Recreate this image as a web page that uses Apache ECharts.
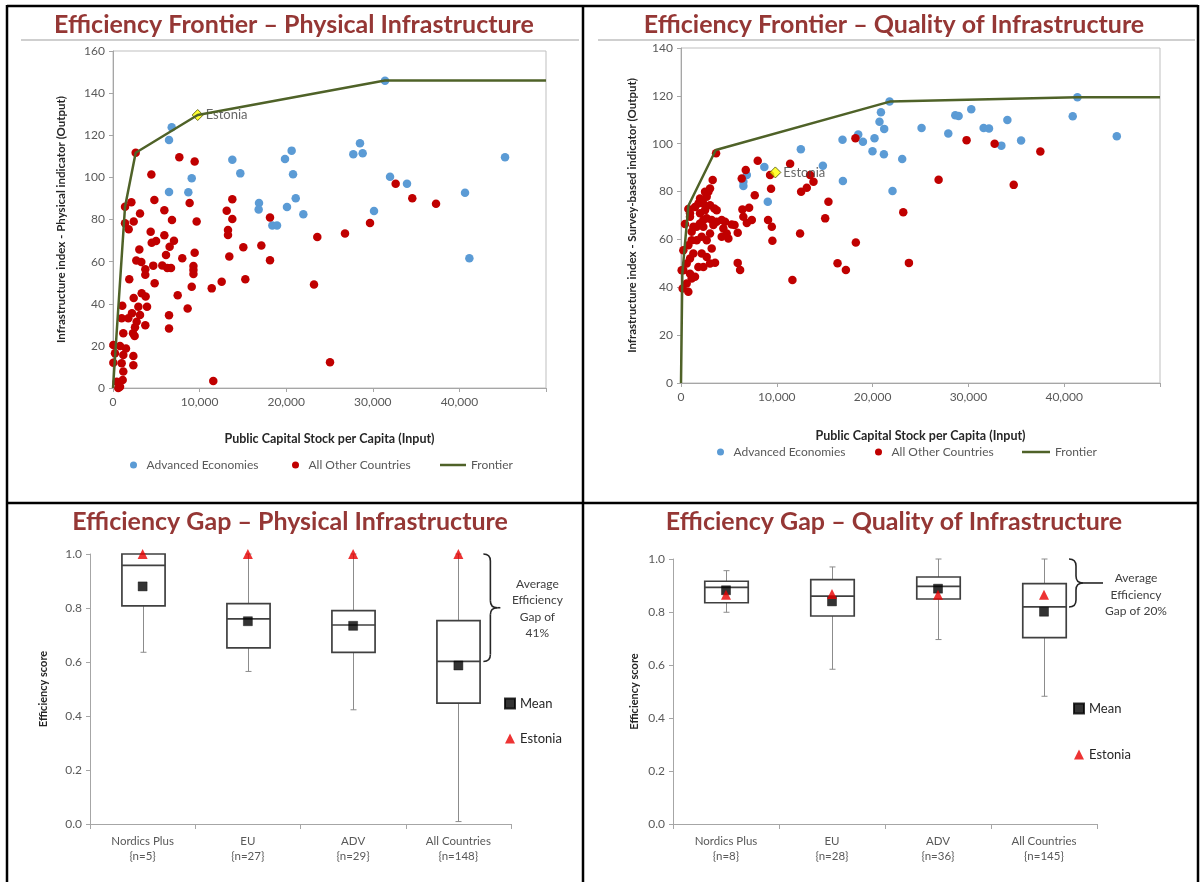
<!DOCTYPE html>
<html><head><meta charset="utf-8">
<script src="https://cdn.jsdelivr.net/npm/echarts@6/dist/echarts.min.js"></script>
<style>html,body{margin:0;padding:0;background:#fff}#c{width:1201px;height:882px}</style>
</head><body><div id="c"></div><script>
// ---------- DATA ----------
const physAdvanced = [[6780,123.8],[6470,117.8],[9090,99.6],[6470,93.1],[8700,92.9],[13780,108.4],[14700,101.9],[19860,108.7],[20630,112.7],[20790,101.5],[21100,90.1],[20090,85.9],[21980,82.5],[16860,87.8],[16820,84.8],[18400,77.2],[18940,77.2],[31410,145.9],[28520,116.2],[27750,111.0],[28830,111.4],[31990,100.3],[33950,97.0],[30140,84.0],[40650,92.7],[41150,61.6],[45270,109.5]];
const physOther = [[2620,111.7],[7660,109.5],[9430,107.5],[4430,101.4],[4780,89.3],[2120,88.2],[1390,86.1],[3120,82.8],[5930,84.4],[8850,87.8],[6810,79.8],[9660,79.1],[2390,79.1],[1390,78.2],[1810,75.4],[4350,74.2],[5930,72.5],[4470,69.0],[4970,69.8],[7040,69.9],[6540,67.1],[3040,65.7],[6120,63.2],[2690,60.5],[3270,59.8],[8000,61.6],[9430,64.2],[9290,57.9],[9290,56.0],[9290,54.1],[4650,58.1],[5690,58.2],[6270,57.0],[6700,57.0],[3730,56.4],[3730,53.8],[4810,49.7],[1880,51.6],[3310,45.0],[3770,43.4],[2390,42.7],[3930,38.6],[2930,38.6],[3120,34.7],[2190,35.5],[1770,33.1],[1000,33.1],[2730,31.5],[3730,29.8],[2540,28.8],[2310,26.0],[2500,24.7],[1070,39.1],[1190,26.0],[7470,44.0],[8620,37.7],[6470,34.5],[6470,28.3],[9090,48.1],[11400,47.3],[12550,50.5],[15280,51.6],[18130,60.6],[17130,67.6],[15050,66.8],[13430,62.4],[13280,72.6],[13280,75.0],[13130,84.2],[13780,89.6],[13780,80.2],[18130,80.9],[23590,71.7],[26790,73.4],[23210,49.1],[25060,12.2],[11580,3.3],[32640,97.0],[34560,90.1],[37300,87.5],[29680,78.3],[40,20.4],[810,19.9],[1500,18.8],[230,16.5],[1190,15.7],[2350,15.2],[40,12.0],[1000,11.7],[2350,10.8],[1190,7.8],[430,3.0],[1120,3.8],[810,0.6],[610,0.0]];
const physFrontier = [[0,0],[1390,86.1],[2620,111.7],[9780,129.6],[31400,146.0],[50000,146.0]];
const physEstonia = [[9780,129.6]];

const qualAdvanced = [[21770,117.6],[20870,113.1],[20720,109.2],[21210,106.2],[18500,103.9],[18990,100.8],[16860,101.7],[20200,102.3],[19990,96.9],[21180,95.6],[22080,80.2],[16900,84.4],[12510,97.7],[14810,90.8],[8700,90.3],[9060,75.7],[6870,86.9],[6510,84.1],[6510,82.3],[23090,93.6],[25110,106.6],[27900,104.3],[28630,111.9],[28980,111.6],[30300,114.4],[31590,106.6],[32150,106.4],[34070,109.9],[33440,99.2],[35500,101.3],[40890,111.5],[41380,119.4],[45490,103.1]];
const qualOther = [[29810,101.5],[32740,100.0],[37510,96.7],[26890,84.9],[34730,82.8],[23200,71.4],[23790,50.2],[18210,102.3],[3660,96.0],[8010,92.9],[11390,91.6],[6760,89.0],[6340,85.5],[9300,86.9],[13480,86.9],[13830,84.1],[13130,81.6],[12540,79.9],[9400,81.2],[7700,78.5],[15390,75.7],[15050,68.8],[9090,68.1],[9480,65.3],[9540,59.4],[12430,62.5],[18250,58.7],[16340,50.0],[17210,47.2],[11630,43.0],[5920,50.2],[6170,47.2],[6410,72.5],[7110,73.2],[6510,69.5],[6870,66.9],[7390,68.1],[5920,62.8],[5590,66.0],[766,72.7],[940,69.5],[418,66.4],[1289,65.3],[1985,66.7],[2334,68.1],[2682,68.8],[3204,68.1],[3727,67.4],[4249,68.1],[4598,67.4],[4423,64.6],[4772,62.5],[4249,61.1],[4946,60.4],[5294,66.2],[3379,66.0],[3030,62.5],[2160,61.1],[1637,59.7],[1115,59.7],[766,57.6],[244,55.5],[1289,54.1],[2160,54.1],[2682,52.7],[940,52.0],[592,49.9],[1811,48.5],[2334,48.5],[3030,49.9],[3553,50.3],[244,47.1],[940,45.7],[1115,43.7],[1463,44.4],[592,41.6],[174,39.5],[766,38.1],[1985,77.1],[2682,77.8],[1811,75.0],[2334,75.0],[2856,79.9],[3030,81.3],[3309,84.8],[3030,74.3],[3483,72.9],[3727,72.2],[2508,72.2],[1463,73.6],[940,70.9],[1115,63.2],[1637,65.3],[2682,59.7],[3204,56.2],[2334,65.3],[1985,70.9],[2508,79.9],[70,47.1]];
const qualFrontier = [[0,0],[140,45.8],[770,74.1],[3630,97.4],[21800,117.6],[41350,119.4],[50000,119.4]];
const qualEstonia = [[9850,88.0]];

const physCategories = ['Nordics Plus\n{n=5}','EU\n{n=27}','ADV\n{n=29}','All Countries\n{n=148}'];
const physBoxMin = [0.636,0.565,0.423,0.009];
const physBoxQ1  = [0.808,0.652,0.636,0.448];
const physBoxMed = [0.958,0.760,0.737,0.602];
const physBoxQ3  = [1.000,0.816,0.790,0.753];
const physBoxMax = [1.000,1.000,1.000,1.000];
const physMean   = [0.880,0.751,0.734,0.587];
const physEst    = [1.000,1.000,1.000,1.000];

const qualCategories = ['Nordics Plus\n{n=8}','EU\n{n=28}','ADV\n{n=36}','All Countries\n{n=145}'];
const qualBoxMin = [0.799,0.584,0.696,0.482];
const qualBoxQ1  = [0.835,0.785,0.849,0.703];
const qualBoxMed = [0.893,0.860,0.897,0.819];
const qualBoxQ3  = [0.916,0.922,0.932,0.907];
const qualBoxMax = [0.956,0.970,1.000,1.000];
const qualMean   = [0.882,0.840,0.888,0.801];
const qualEst    = [0.865,0.868,0.865,0.865];

const frontierXTicks = [0,10000,20000,30000,40000];
// ---------- STYLE ----------
const FONT = 'Lato, "Open Sans", sans-serif';
const TITLE_COLOR = '#953735';
const LABEL_COLOR = '#595959';
const AXIS_COLOR = '#A6A6A6';
const BLUE = '#5B9BD5', RED = '#C00000', GREEN = '#4F6228', TRI = '#E80000';

const chart = echarts.init(document.getElementById('c'), null, {renderer:'canvas'});

function boxRender(params, api) {
  const i = api.value(0);
  const pMin = api.coord([i, api.value(1)]);
  const pQ1 = api.coord([i, api.value(2)]);
  const pMed = api.coord([i, api.value(3)]);
  const pQ3 = api.coord([i, api.value(4)]);
  const pMax = api.coord([i, api.value(5)]);
  const bw = api.size([1, 0])[0] * 0.41;
  const x = Math.round(pMed[0]) + 0.5;
  const w = {stroke:'#8C8C8C', lineWidth:1};
  const b = {stroke:'#404040', lineWidth:1.7, fill:'#fff'};
  return {type:'group', children:[
    {type:'line', shape:{x1:x,y1:pMax[1],x2:x,y2:pQ3[1]}, style:w},
    {type:'line', shape:{x1:x,y1:pQ1[1],x2:x,y2:pMin[1]}, style:w},
    {type:'line', shape:{x1:x-3,y1:pMin[1],x2:x+3,y2:pMin[1]}, style:w},
    {type:'line', shape:{x1:x-3,y1:pMax[1],x2:x+3,y2:pMax[1]}, style:w},
    {type:'rect', shape:{x:x-bw/2,y:pQ3[1],width:bw,height:pQ1[1]-pQ3[1]}, style:b},
    {type:'line', shape:{x1:x-bw/2,y1:pMed[1],x2:x+bw/2,y2:pMed[1]}, style:{stroke:'#404040',lineWidth:1.7}}
  ]};
}
function makeBrace(offX, r, tipLen, txtDx, txtDy, txt) {
  return function(params, api) {
    const i = api.value(0);
    const t = api.coord([i, api.value(1)]);
    const bt = api.coord([i, api.value(2)]);
    const x0 = t[0] + offX, y1 = t[1], y2 = bt[1], ym = (y1 + y2) / 2;
    const s = {stroke:'#262626', lineWidth:1.6, fill:null};
    return {type:'group', children:[
      {type:'bezierCurve', shape:{x1:x0,y1:y1,cpx1:x0+r,cpy1:y1,x2:x0+r,y2:y1+r}, style:s},
      {type:'line', shape:{x1:x0+r,y1:y1+r,x2:x0+r,y2:ym-r}, style:s},
      {type:'bezierCurve', shape:{x1:x0+r,y1:ym-r,cpx1:x0+r,cpy1:ym,x2:x0+2*r,y2:ym}, style:s},
      {type:'bezierCurve', shape:{x1:x0+2*r,y1:ym,cpx1:x0+r,cpy1:ym,x2:x0+r,y2:ym+r}, style:s},
      {type:'line', shape:{x1:x0+r,y1:ym+r,x2:x0+r,y2:y2-r}, style:s},
      {type:'bezierCurve', shape:{x1:x0+r,y1:y2-r,cpx1:x0+r,cpy1:y2,x2:x0,y2:y2}, style:s},
      {type:'line', shape:{x1:x0+2*r,y1:ym,x2:x0+2*r+tipLen,y2:ym}, style:s},
      {type:'text', x: t[0] + txtDx, y: ym + txtDy, style:{text:txt, fill:'#404040', font:'12px ' + FONT, align:'center', verticalAlign:'middle', textAlign:'center', textVerticalAlign:'middle', lineHeight:16.5}}
    ]};
  };
}

function valueXAxis(gi) {
  return {type:'value', gridIndex:gi, min:0, max:50000, interval:10000,
    axisLine:{show:true, lineStyle:{color:AXIS_COLOR}}, axisTick:{show:true, length:4, lineStyle:{color:AXIS_COLOR}},
    splitLine:{show:false},
    axisLabel:{color:LABEL_COLOR, fontSize:12, fontFamily:FONT, margin:8,
      formatter: v => frontierXTicks.indexOf(v) >= 0 ? v.toLocaleString('en-US') : ''},
    name:'Public Capital Stock per Capita (Input)', nameLocation:'middle', nameGap: gi===0 ? 44 : 46,
    nameTextStyle:{fontWeight:'bold', fontSize:12.5, color:'#262626', fontFamily:FONT}};
}
function valueYAxis(gi, max, name, gap) {
  return {type:'value', gridIndex:gi, min:0, max:max, interval:20,
    axisLine:{show:true, lineStyle:{color:AXIS_COLOR}}, axisTick:{show:true, length:4, lineStyle:{color:AXIS_COLOR}},
    splitLine:{show:false},
    axisLabel:{color:LABEL_COLOR, fontSize:12, fontFamily:FONT, margin:8},
    name:name, nameLocation:'middle', nameGap:gap,
    nameTextStyle:{fontWeight:'bold', fontSize:11.5, color:'#262626', fontFamily:FONT}};
}
function catXAxis(gi, cats) {
  return {type:'category', gridIndex:gi, data:cats, boundaryGap:true,
    axisLine:{show:true, lineStyle:{color:AXIS_COLOR}}, axisTick:{show:true, length:5, alignWithLabel:false, lineStyle:{color:AXIS_COLOR}},
    axisLabel:{color:LABEL_COLOR, fontSize:11.5, fontFamily:FONT, lineHeight:15, margin:10}};
}
function scoreYAxis(gi, gap) {
  return {type:'value', gridIndex:gi, min:0, max:1, interval:0.2,
    axisLine:{show:true, lineStyle:{color:AXIS_COLOR}}, axisTick:{show:true, length:4, lineStyle:{color:AXIS_COLOR}},
    splitLine:{show:false},
    axisLabel:{color:LABEL_COLOR, fontSize:12, fontFamily:FONT, margin:8, formatter: v => v.toFixed(1)},
    name:'Efficiency score', nameLocation:'middle', nameGap:gap,
    nameTextStyle:{fontWeight:'bold', fontSize:11, color:'#262626', fontFamily:FONT}};
}
function legendItem(name, left, top, w, h) {
  return {data:[name], left:left, top:top, itemWidth:w, itemHeight:h, padding:0, itemGap:0,
    selectedMode:false, textStyle:{color:LABEL_COLOR, fontSize:12, fontFamily:FONT}};
}

function bracketData(cats, top, med) { return [[cats.length - 1, top, med]]; }

const option = {
  animation:false,
  textStyle:{fontFamily:FONT},
  grid:[
    {left:113, top:51, width:433, height:337, show:true, borderColor:'#BFBFBF', borderWidth:1, backgroundColor:'transparent'},
    {left:681, top:48, width:479, height:335, show:true, borderColor:'#BFBFBF', borderWidth:1, backgroundColor:'transparent'},
    {left:90, top:554, width:421, height:270},
    {left:673, top:559, width:424, height:265}
  ],
  xAxis:[ valueXAxis(0), valueXAxis(1), catXAxis(2, physCategories), catXAxis(3, qualCategories) ],
  yAxis:[
    valueYAxis(0, 160, 'Infrastructure index - Physical indicator (Output)', 46),
    valueYAxis(1, 140, 'Infrastructure index - Survey-based indicator (Output)', 43),
    scoreYAxis(2, 41), scoreYAxis(3, 33)
  ],
  legend:[
    legendItem('Advanced Economies', 130, 459, 16, 7),
    legendItem('All Other Countries', 292, 459, 16, 7),
    {data:[{name:'Frontier', icon:'rect'}], left:440, top:459, itemWidth:26, itemHeight:2.5, padding:0, selectedMode:false,
      textStyle:{color:LABEL_COLOR, fontSize:12, fontFamily:FONT}},
    legendItem('Advanced Economies', 717, 446, 16, 7),
    legendItem('All Other Countries', 875, 446, 16, 7),
    {data:[{name:'Frontier', icon:'rect'}], left:1022, top:446, itemWidth:28, itemHeight:2.5, padding:0, selectedMode:false,
      textStyle:{color:LABEL_COLOR, fontSize:12, fontFamily:FONT}},
    Object.assign(legendItem('Mean', 504, 697, 10, 10), {data:['Mean','Estonia'], orient:'vertical', itemGap:22, textStyle:{color:'#262626', fontSize:13, fontFamily:FONT}}),
    Object.assign(legendItem('Mean', 1073, 702, 10, 10), {data:['Mean','Estonia'], orient:'vertical', itemGap:33, textStyle:{color:'#262626', fontSize:13, fontFamily:FONT}})
  ],
  series:[
    {name:'Advanced Economies', type:'scatter', xAxisIndex:0, yAxisIndex:0, data:physAdvanced, symbolSize:8.5, itemStyle:{color:BLUE, opacity:1}},
    {name:'All Other Countries', type:'scatter', xAxisIndex:0, yAxisIndex:0, data:physOther, symbolSize:8.5, itemStyle:{color:RED, opacity:1}},
    {name:'Frontier', type:'line', xAxisIndex:0, yAxisIndex:0, data:physFrontier, symbol:'none', lineStyle:{color:GREEN, width:2.5}, itemStyle:{color:GREEN}},
    {name:'EstoniaFrontierPhys', type:'scatter', xAxisIndex:0, yAxisIndex:0, data:physEstonia, symbol:'diamond', symbolSize:11,
      itemStyle:{color:'#FFFF00', borderColor:'#4D4D00', borderWidth:1}, label:{show:true, position:'right', distance:2, formatter:'Estonia', color:'#404040', fontSize:13, fontFamily:FONT}},

    {name:'Advanced Economies', type:'scatter', xAxisIndex:1, yAxisIndex:1, data:qualAdvanced, symbolSize:8.5, itemStyle:{color:BLUE, opacity:1}},
    {name:'All Other Countries', type:'scatter', xAxisIndex:1, yAxisIndex:1, data:qualOther, symbolSize:8.5, itemStyle:{color:RED, opacity:1}},
    {name:'Frontier', type:'line', xAxisIndex:1, yAxisIndex:1, data:qualFrontier, symbol:'none', lineStyle:{color:GREEN, width:2.5}, itemStyle:{color:GREEN}},
    {name:'EstoniaFrontierQual', type:'scatter', xAxisIndex:1, yAxisIndex:1, data:qualEstonia, symbol:'diamond', symbolSize:11,
      itemStyle:{color:'#FFFF00', borderColor:'#4D4D00', borderWidth:1}, label:{show:true, position:'right', distance:2, formatter:'Estonia', color:'#404040', fontSize:13, fontFamily:FONT}},

    {name:'boxPhys', type:'custom', xAxisIndex:2, yAxisIndex:2, renderItem:boxRender, clip:false,
      encode:{x:0, y:[1,2,3,4,5]},
      data: physBoxMin.map((v,i)=>[i, v, physBoxQ1[i], physBoxMed[i], physBoxQ3[i], physBoxMax[i]])},
    {name:'Mean', type:'scatter', xAxisIndex:2, yAxisIndex:2, data:physMean.map((v,i)=>[i,v]), symbol:'rect', symbolSize:9,
      itemStyle:{color:'#000', borderColor:'#000', borderWidth:0.5}},
    {name:'Estonia', type:'scatter', xAxisIndex:2, yAxisIndex:2, data:physEst.map((v,i)=>[i,v]), symbol:'triangle', symbolSize:10,
      itemStyle:{color:TRI}},
    {name:'bracePhys', type:'custom', xAxisIndex:2, yAxisIndex:2, clip:false, encode:{x:0, y:[1,2]},
      renderItem: makeBrace(25, 7, 3, 79, 1, 'Average\nEfficiency\nGap of\n41%'),
      data: bracketData(physCategories, physBoxMax[3], physBoxMed[3])},

    {name:'boxQual', type:'custom', xAxisIndex:3, yAxisIndex:3, renderItem:boxRender, clip:false,
      encode:{x:0, y:[1,2,3,4,5]},
      data: qualBoxMin.map((v,i)=>[i, v, qualBoxQ1[i], qualBoxMed[i], qualBoxQ3[i], qualBoxMax[i]])},
    {name:'Mean', type:'scatter', xAxisIndex:3, yAxisIndex:3, data:qualMean.map((v,i)=>[i,v]), symbol:'rect', symbolSize:9,
      itemStyle:{color:'#000', borderColor:'#000', borderWidth:0.5}},
    {name:'Estonia', type:'scatter', xAxisIndex:3, yAxisIndex:3, data:qualEst.map((v,i)=>[i,v]), symbol:'triangle', symbolSize:10,
      itemStyle:{color:TRI}},
    {name:'braceQual', type:'custom', xAxisIndex:3, yAxisIndex:3, clip:false, encode:{x:0, y:[1,2]},
      renderItem: makeBrace(25, 7, 20, 92, 12, 'Average\nEfficiency\nGap of 20%'),
      data: bracketData(qualCategories, qualBoxMax[3], qualBoxMed[3])}
  ],
  graphic:[
    {type:'line', shape:{x1:7, y1:6, x2:1198, y2:6}, style:{stroke:'#000', lineWidth:2.5}},
    {type:'line', shape:{x1:7, y1:5, x2:7, y2:882}, style:{stroke:'#000', lineWidth:2.5}},
    {type:'line', shape:{x1:1198, y1:5, x2:1198, y2:882}, style:{stroke:'#000', lineWidth:2.5}},
    {type:'line', shape:{x1:583, y1:5, x2:583, y2:882}, style:{stroke:'#000', lineWidth:2.5}},
    {type:'line', shape:{x1:7, y1:503, x2:1198, y2:503}, style:{stroke:'#000', lineWidth:2.5}},
    {type:'line', shape:{x1:21, y1:40, x2:579, y2:40}, style:{stroke:'#BFBFBF', lineWidth:1.5}},
    {type:'line', shape:{x1:598, y1:40, x2:1195, y2:40}, style:{stroke:'#BFBFBF', lineWidth:1.5}},
    {type:'text', x:294, y:25, style:{text:'Efficiency Frontier – Physical Infrastructure', font:'bold 25px ' + FONT, fill:TITLE_COLOR, align:'center', verticalAlign:'middle', textAlign:'center', textVerticalAlign:'middle'}},
    {type:'text', x:894, y:25, style:{text:'Efficiency Frontier – Quality of Infrastructure', font:'bold 25px ' + FONT, fill:TITLE_COLOR, align:'center', verticalAlign:'middle', textAlign:'center', textVerticalAlign:'middle'}},
    {type:'text', x:290, y:522, style:{text:'Efficiency Gap – Physical Infrastructure', font:'bold 25px ' + FONT, fill:TITLE_COLOR, align:'center', verticalAlign:'middle', textAlign:'center', textVerticalAlign:'middle'}},
    {type:'text', x:894, y:522, style:{text:'Efficiency Gap – Quality of Infrastructure', font:'bold 25px ' + FONT, fill:TITLE_COLOR, align:'center', verticalAlign:'middle', textAlign:'center', textVerticalAlign:'middle'}}
  ]
};
chart.setOption(option);
</script></body></html>
